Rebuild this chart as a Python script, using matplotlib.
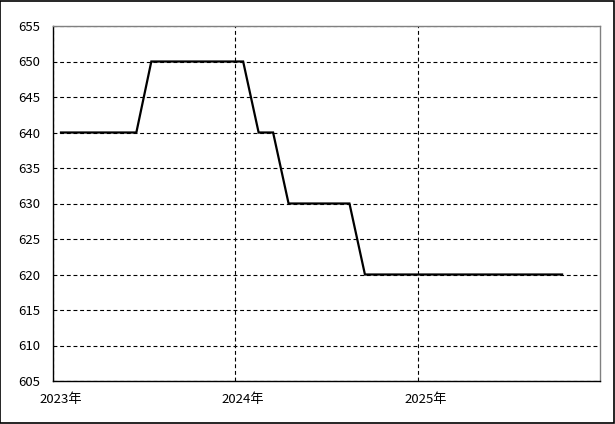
import matplotlib
matplotlib.use("Agg")
import matplotlib.pyplot as plt
from matplotlib.patches import Rectangle
import pandas as pd

plt.rcParams['font.family'] = ['Noto Sans CJK JP', 'DejaVu Sans']

values = [640, 640, 640, 640, 640, 640,
          650, 650, 650, 650, 650, 650, 650,
          640, 640,
          630, 630, 630, 630, 630,
          620, 620, 620, 620, 620, 620, 620, 620, 620, 620, 620, 620, 620, 620]
year_labels = ["2023年", "2024年", "2025年"]
y_ticks = [605, 610, 615, 620, 625, 630, 635, 640, 645, 650, 655]

months = pd.date_range("2023-01-01", periods=len(values), freq="MS") + pd.Timedelta(days=16)

fig = plt.figure(figsize=(6.15, 4.24), dpi=100)
ax = fig.add_axes([53/615, (424-381)/424, (600-53)/615, (381-26)/424])

ax.plot(months, values, color="black", lw=1.6, solid_joinstyle="miter")

ax.set_ylim(605, 655)
ax.set_yticks(y_ticks)
ax.set_xlim(pd.Timestamp("2023-01-01"), pd.Timestamp("2026-01-01"))

major = [pd.Timestamp("2023-01-01"), pd.Timestamp("2024-01-01"), pd.Timestamp("2025-01-01")]
minor = [pd.Timestamp("2023-01-16"), pd.Timestamp("2024-01-16"), pd.Timestamp("2025-01-16")]
ax.set_xticks(major)
ax.set_xticklabels([])
ax.set_xticks(minor, minor=True)
ax.set_xticklabels(year_labels, minor=True)

ax.tick_params(axis="both", which="both", length=0, labelsize=9.5, colors="black")
ax.tick_params(axis="y", pad=9)
ax.tick_params(axis="x", which="minor", pad=9)

ax.grid(True, which="major", color="black", linestyle=(0, (3.5, 2.5)), lw=0.8)

ax.spines["left"].set_color("black")
ax.spines["bottom"].set_color("black")
ax.spines["top"].set_color("#808080")
ax.spines["right"].set_color("#808080")
for s in ax.spines.values():
    s.set_linewidth(1.0)

fig.patches.append(Rectangle((0.0008, 0.0012), 0.9975, 0.997, transform=fig.transFigure,
                             fill=False, edgecolor="black", lw=1.2))

fig.savefig("out.png", dpi=100)
